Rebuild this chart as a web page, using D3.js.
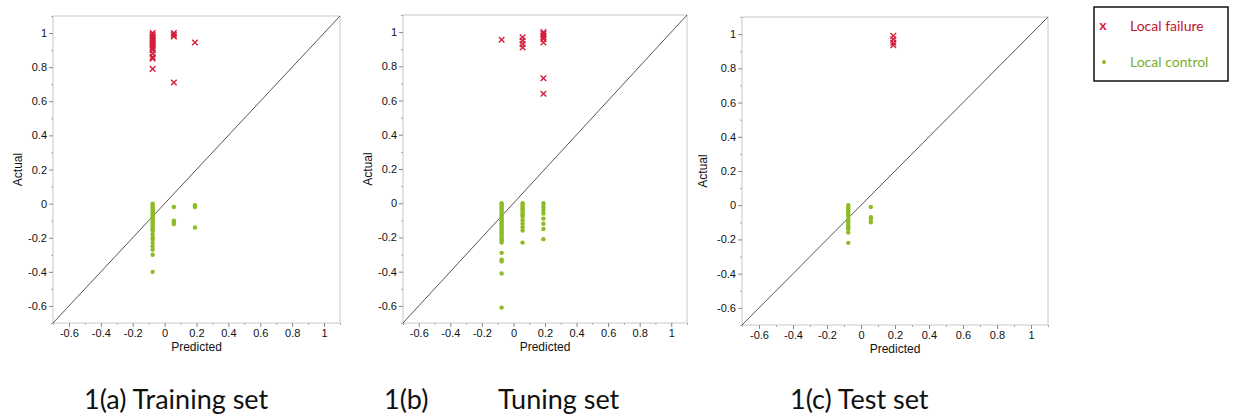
<!DOCTYPE html>
<html>
<head>
<meta charset="utf-8">
<script src="https://cdn.jsdelivr.net/npm/d3@7"></script>
<style>
  body { margin: 0; background: #fff; }
  svg { display: block; }
  .tick text { font-family: "Liberation Sans", Arial, sans-serif; font-size: 11px; fill: #111; }
  .axis-title { font-family: "Liberation Sans", Arial, sans-serif; font-size: 12px; fill: #111; }
  .caption { font-family: Lato, "Open Sans", sans-serif; font-size: 27px; fill: #111; }
</style>
</head>
<body>
<div class="viz"></div>
<script>
// data: [predicted, actual]
const trainFailure = [
  [-0.075, 1], [-0.075, 0.99], [-0.075, 0.98], [-0.075, 0.97], [-0.075, 0.96], [-0.075, 0.95],
  [-0.075, 0.94], [-0.075, 0.93], [-0.075, 0.92], [-0.075, 0.91], [-0.075, 0.9], [-0.075, 0.88],
  [-0.075, 0.86], [-0.075, 0.85], [-0.075, 0.79],
  [0.058, 1], [0.058, 0.99], [0.058, 0.98], [0.058, 0.71],
  [0.19, 0.945]
];
const trainControl = [
  [-0.075, 0], [-0.075, -0.01], [-0.075, -0.02], [-0.075, -0.03], [-0.075, -0.04], [-0.075, -0.05],
  [-0.075, -0.06], [-0.075, -0.07], [-0.075, -0.08], [-0.075, -0.09], [-0.075, -0.1], [-0.075, -0.11],
  [-0.075, -0.12], [-0.075, -0.13], [-0.075, -0.14], [-0.075, -0.15], [-0.075, -0.16], [-0.075, -0.18],
  [-0.075, -0.2], [-0.075, -0.21], [-0.075, -0.23], [-0.075, -0.25], [-0.075, -0.27], [-0.075, -0.3],
  [-0.075, -0.4],
  [0.058, -0.02], [0.058, -0.1], [0.058, -0.11], [0.058, -0.12],
  [0.19, -0.01], [0.19, -0.02], [0.19, -0.14]
];
const tuneFailure = [
  [-0.075, 0.955],
  [0.058, 0.97], [0.058, 0.95], [0.058, 0.93], [0.058, 0.91],
  [0.19, 1], [0.19, 0.99], [0.19, 0.98], [0.19, 0.97], [0.19, 0.96], [0.19, 0.94],
  [0.19, 0.73], [0.19, 0.64]
];
const tuneControl = [
  [-0.075, 0], [-0.075, -0.01], [-0.075, -0.02], [-0.075, -0.03], [-0.075, -0.04], [-0.075, -0.05],
  [-0.075, -0.06], [-0.075, -0.07], [-0.075, -0.08], [-0.075, -0.09], [-0.075, -0.1], [-0.075, -0.11],
  [-0.075, -0.12], [-0.075, -0.13], [-0.075, -0.14], [-0.075, -0.15], [-0.075, -0.16], [-0.075, -0.17],
  [-0.075, -0.18], [-0.075, -0.19], [-0.075, -0.2], [-0.075, -0.21], [-0.075, -0.22], [-0.075, -0.23],
  [-0.075, -0.29], [-0.075, -0.33], [-0.075, -0.34], [-0.075, -0.41], [-0.075, -0.61],
  [0.058, 0], [0.058, -0.01], [0.058, -0.02], [0.058, -0.03], [0.058, -0.04], [0.058, -0.05],
  [0.058, -0.06], [0.058, -0.07], [0.058, -0.08], [0.058, -0.1], [0.058, -0.12], [0.058, -0.14],
  [0.058, -0.16], [0.058, -0.23],
  [0.19, 0], [0.19, -0.02], [0.19, -0.04], [0.19, -0.06], [0.19, -0.09], [0.19, -0.12],
  [0.19, -0.15], [0.19, -0.21]
];
const testFailure = [
  [0.19, 0.99], [0.19, 0.97], [0.19, 0.95], [0.19, 0.935]
];
const testControl = [
  [-0.075, 0], [-0.075, -0.01], [-0.075, -0.02], [-0.075, -0.03], [-0.075, -0.04], [-0.075, -0.05],
  [-0.075, -0.06], [-0.075, -0.08], [-0.075, -0.09], [-0.075, -0.1], [-0.075, -0.11], [-0.075, -0.12],
  [-0.075, -0.13], [-0.075, -0.14], [-0.075, -0.16], [-0.075, -0.22],
  [0.058, -0.01], [0.058, -0.07], [0.058, -0.08], [0.058, -0.1]
];

const axisDomain = [-0.7, 1.1];
const majorTicks = [-0.6, -0.4, -0.2, 0, 0.2, 0.4, 0.6, 0.8, 1];
const minorTicks = [-0.7, -0.5, -0.3, -0.1, 0.1, 0.3, 0.5, 0.7, 0.9, 1.1];
const captions = ["1(a) Training set", "1(b)", "Tuning set", "1(c) Test set"];
const legendLabels = ["Local failure", "Local control"];

const red = "#d41f3c", green = "#8dbb25";
const width = 1236, height = 418;

const svg = d3.select(".viz").append("svg")
  .attr("width", width)
  .attr("height", height);

const panels = [
  { left: 53, top: 16, w: 287, h: 307, titleX: 18, fail: trainFailure, ctrl: trainControl },
  { left: 403, top: 15, w: 284, h: 308, titleX: 368, fail: tuneFailure, ctrl: tuneControl },
  { left: 742, top: 17, w: 306, h: 308, titleX: 703, fail: testFailure, ctrl: testControl }
];

panels.forEach(p => {
  const x = d3.scaleLinear().domain(axisDomain).range([p.left, p.left + p.w]);
  const y = d3.scaleLinear().domain(axisDomain).range([p.top + p.h, p.top]);
  const g = svg.append("g");

  // frame
  g.append("rect")
    .attr("x", p.left).attr("y", p.top)
    .attr("width", p.w).attr("height", p.h)
    .attr("fill", "none").attr("stroke", "#c8c8c8");

  // minor ticks
  g.append("g")
    .attr("transform", `translate(0,${p.top + p.h})`)
    .call(d3.axisBottom(x).tickValues(minorTicks).tickSize(2).tickFormat(""))
    .call(a => a.select(".domain").remove())
    .selectAll("line").attr("stroke", "#aaa");
  g.append("g")
    .attr("transform", `translate(${p.left},0)`)
    .call(d3.axisLeft(y).tickValues(minorTicks).tickSize(2).tickFormat(""))
    .call(a => a.select(".domain").remove())
    .selectAll("line").attr("stroke", "#aaa");

  // major ticks
  g.append("g")
    .attr("transform", `translate(0,${p.top + p.h})`)
    .call(d3.axisBottom(x).tickValues(majorTicks).tickSize(4).tickPadding(2).tickFormat(d => String(d)))
    .call(a => a.select(".domain").remove())
    .selectAll("line").attr("stroke", "#888");
  g.append("g")
    .attr("transform", `translate(${p.left},0)`)
    .call(d3.axisLeft(y).tickValues(majorTicks).tickSize(4).tickPadding(2).tickFormat(d => String(d)))
    .call(a => a.select(".domain").remove())
    .selectAll("line").attr("stroke", "#888");

  // diagonal
  g.append("line")
    .attr("x1", x(axisDomain[0])).attr("y1", y(axisDomain[0]))
    .attr("x2", x(axisDomain[1])).attr("y2", y(axisDomain[1]))
    .attr("stroke", "#555").attr("stroke-width", 1);

  // local control dots
  g.append("g").selectAll("circle")
    .data(p.ctrl)
    .enter().append("circle")
    .attr("cx", d => x(d[0]))
    .attr("cy", d => y(d[1]))
    .attr("r", 2.2)
    .attr("fill", green);

  // local failure crosses
  const s = 2.8;
  g.append("g").selectAll("path")
    .data(p.fail)
    .enter().append("path")
    .attr("d", d => {
      const cx = x(d[0]), cy = y(d[1]);
      return `M${cx - s},${cy - s}L${cx + s},${cy + s}M${cx - s},${cy + s}L${cx + s},${cy - s}`;
    })
    .attr("stroke", red).attr("stroke-width", 1.4).attr("fill", "none");

  // axis titles
  g.append("text").attr("class", "axis-title")
    .attr("x", p.left + p.w / 2).attr("y", p.top + p.h + 28)
    .attr("text-anchor", "middle").text("Predicted");
  g.append("text").attr("class", "axis-title")
    .attr("transform", `translate(${p.titleX + 4},${p.top + p.h / 2}) rotate(-90)`)
    .attr("text-anchor", "middle").text("Actual");
});

// captions under the panels
const captionX = [84, 384, 498, 790];
svg.selectAll("text.caption")
  .data(captions)
  .enter().append("text")
  .attr("class", "caption")
  .attr("x", (d, i) => captionX[i])
  .attr("y", 409)
  .text(d => d);

// legend
const legend = svg.append("g");
legend.append("rect")
  .attr("x", 1094).attr("y", 7).attr("width", 134).attr("height", 74)
  .attr("fill", "#fff").attr("stroke", "#111").attr("stroke-width", 1.5);
legend.append("text")
  .attr("x", 1103).attr("y", 30).attr("text-anchor", "middle")
  .attr("font-family", "Lato, sans-serif").attr("font-size", 14).attr("font-weight", "bold")
  .attr("fill", red).text("x");
legend.append("circle")
  .attr("cx", 1104).attr("cy", 62).attr("r", 2)
  .attr("fill", green);
legend.selectAll("text.lab")
  .data(legendLabels)
  .enter().append("text")
  .attr("class", "lab")
  .attr("x", 1130)
  .attr("y", (d, i) => i === 0 ? 31 : 67)
  .attr("font-family", "Lato, sans-serif").attr("font-size", 14)
  .attr("fill", (d, i) => i === 0 ? "#c0142e" : "#7aae2c")
  .text(d => d);
</script>
</body>
</html>
